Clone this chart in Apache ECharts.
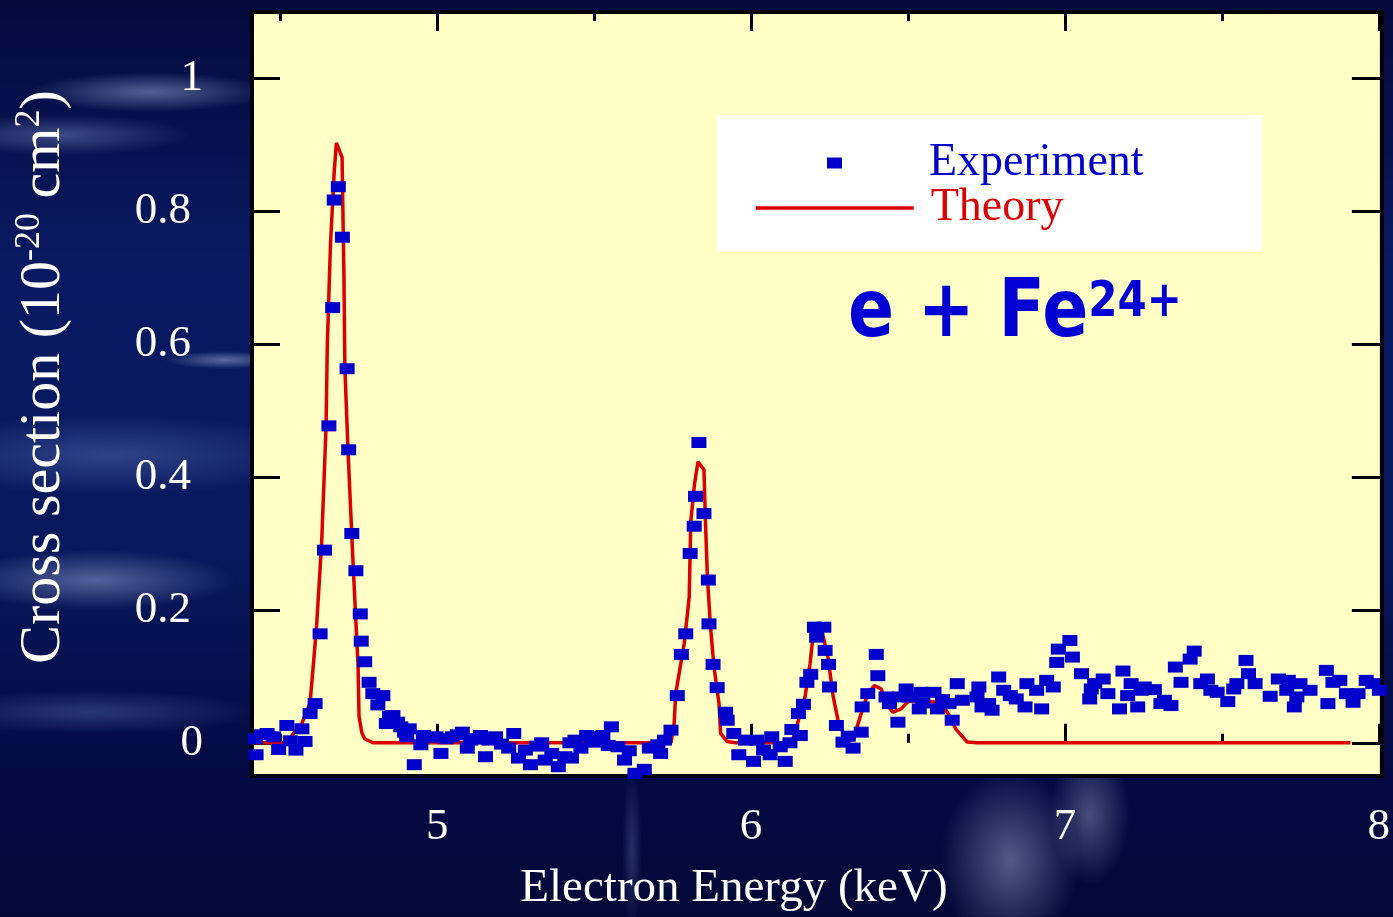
<!DOCTYPE html>
<html>
<head>
<meta charset="utf-8">
<script src="https://cdn.jsdelivr.net/npm/echarts@6/dist/echarts.min.js"></script>
<style>
html, body { margin:0; padding:0; width:1393px; height:917px; overflow:hidden; }
body {
  background-color:#040c45;
  background-image:
    radial-gradient(ellipse 120px 20px at 150px 92px, rgba(175,195,235,0.45), rgba(175,195,235,0) 100%),
    radial-gradient(ellipse 130px 20px at 60px 135px, rgba(150,170,220,0.38), rgba(150,170,220,0) 100%),
    radial-gradient(ellipse 60px 9px at 225px 360px, rgba(190,200,240,0.45), rgba(190,200,240,0) 100%),
    radial-gradient(ellipse 220px 40px at 110px 455px, rgba(110,135,200,0.38), rgba(110,135,200,0) 100%),
    radial-gradient(ellipse 140px 30px at 95px 580px, rgba(175,190,230,0.45), rgba(175,190,230,0) 100%),
    radial-gradient(ellipse 170px 22px at 90px 712px, rgba(120,145,210,0.32), rgba(120,145,210,0) 100%),
    radial-gradient(ellipse 70px 90px at 1010px 860px, rgba(160,170,210,0.50), rgba(160,170,210,0) 100%),
    radial-gradient(ellipse 40px 70px at 1090px 815px, rgba(170,180,215,0.40), rgba(170,180,215,0) 100%),
    radial-gradient(ellipse 10px 80px at 632px 850px, rgba(120,140,200,0.30), rgba(120,140,200,0) 100%),
    linear-gradient(180deg, #030a3c 0%, #0a1a62 30%, #08185c 60%, #030a42 85%, #020836 100%);
}
#chart { width:1393px; height:917px; }
</style>
</head>
<body>
<div id="chart"></div>
<script>
// ---------- data ----------
const expEnergy = [
  4.421, 4.423, 4.440, 4.458, 4.479, 4.495, 4.521, 4.532, 4.550, 4.569,
  4.579, 4.595, 4.611, 4.627, 4.641, 4.655, 4.667, 4.672, 4.685, 4.698,
  4.713, 4.718, 4.728, 4.741, 4.755, 4.758, 4.769, 4.783, 4.795, 4.811,
  4.827, 4.838, 4.848, 4.859, 4.874, 4.884, 4.896, 4.903, 4.911, 4.927,
  4.948, 4.956, 4.975, 4.996, 5.012, 5.028, 5.048, 5.064, 5.080, 5.096,
  5.107, 5.122, 5.138, 5.154, 5.165, 5.186, 5.205, 5.228, 5.244, 5.259,
  5.281, 5.297, 5.318, 5.333, 5.344, 5.365, 5.386, 5.407, 5.423, 5.428,
  5.439, 5.458, 5.476, 5.490, 5.502, 5.513, 5.528, 5.545, 5.555, 5.576,
  5.597, 5.612, 5.630, 5.660, 5.676, 5.703, 5.712, 5.724, 5.745, 5.765,
  5.778, 5.792, 5.806, 5.819, 5.823, 5.834, 5.850, 5.864, 5.866, 5.879,
  5.892, 5.919, 5.924, 5.945, 5.961, 5.982, 6.008, 6.019, 6.040, 6.061,
  6.066, 6.093, 6.109, 6.124, 6.130, 6.151, 6.157, 6.167, 6.178, 6.190,
  6.202, 6.209, 6.232, 6.236, 6.247, 6.250, 6.272, 6.293, 6.310, 6.325,
  6.351, 6.354, 6.372, 6.399, 6.404, 6.430, 6.441, 6.468, 6.473, 6.494,
  6.504, 6.536, 6.541, 6.547, 6.583, 6.594, 6.610, 6.631, 6.641, 6.657,
  6.673, 6.720, 6.726, 6.736, 6.757, 6.768, 6.789, 6.805, 6.826, 6.845,
  6.873, 6.879, 6.910, 6.926, 6.942, 6.963, 6.974, 6.979, 7.016, 7.024,
  7.053, 7.079, 7.084, 7.095, 7.122, 7.137, 7.174, 7.185, 7.200, 7.211,
  7.232, 7.243, 7.253, 7.285, 7.306, 7.317, 7.338, 7.352, 7.370, 7.399,
  7.412, 7.433, 7.454, 7.465, 7.485, 7.519, 7.538, 7.548, 7.577, 7.585,
  7.606, 7.654, 7.680, 7.707, 7.712, 7.731, 7.739, 7.749, 7.781, 7.833,
  7.838, 7.854, 7.876, 7.897, 7.918, 7.934, 7.960, 7.981, 8.002
];
const expValue = [
  0.006, -0.018, 0.012, 0.014, 0.009, -0.010, 0.026, 0.003, -0.011, 0.021,
  0.002, 0.044, 0.059, 0.164, 0.290, 0.477, 0.655, 0.817, 0.837, 0.761,
  0.563, 0.441, 0.315, 0.259, 0.194, 0.153, 0.122, 0.091, 0.074, 0.057,
  0.071, 0.029, 0.040, 0.041, 0.031, 0.024, 0.016, 0.009, 0.021, -0.033,
  -0.003, 0.011, 0.008, 0.009, -0.016, 0.006, 0.009, 0.012, 0.016, -0.008,
  0.004, 0.006, 0.011, -0.021, 0.004, 0.009, -0.002, -0.008, 0.014, -0.023,
  -0.011, -0.033, -0.005, 0.000, -0.026, -0.016, -0.036, -0.021, 0.000, -0.023,
  0.004, -0.008, 0.011, 0.008, 0.001, 0.009, 0.011, -0.004, 0.024, -0.006,
  -0.026, -0.012, -0.046, -0.040, -0.008, -0.003, -0.016, 0.004, 0.019, 0.071,
  0.133, 0.164, 0.285, 0.326, 0.371, 0.452, 0.345, 0.245, 0.179, 0.118,
  0.083, 0.046, 0.034, 0.014, -0.018, 0.004, -0.028, 0.004, -0.011, -0.018,
  0.009, -0.006, -0.028, 0.000, 0.020, 0.044, 0.011, 0.058, 0.091, 0.103,
  0.174, 0.159, 0.174, 0.139, 0.118, 0.084, 0.026, 0.001, 0.010, -0.008,
  0.016, 0.054, 0.074, 0.133, 0.101, 0.069, 0.059, 0.031, 0.069, 0.081,
  0.069, 0.051, 0.076, 0.060, 0.076, 0.051, 0.065, 0.059, 0.034, 0.089,
  0.064, 0.069, 0.084, 0.054, 0.059, 0.049, 0.099, 0.079, 0.071, 0.066,
  0.054, 0.089, 0.079, 0.051, 0.094, 0.084, 0.121, 0.141, 0.154, 0.129,
  0.104, 0.066, 0.081, 0.089, 0.096, 0.074, 0.051, 0.108, 0.071, 0.089,
  0.054, 0.079, 0.084, 0.080, 0.059, 0.064, 0.056, 0.114, 0.091, 0.126,
  0.138, 0.089, 0.096, 0.079, 0.076, 0.062, 0.081, 0.089, 0.124, 0.104,
  0.089, 0.070, 0.096, 0.079, 0.094, 0.054, 0.069, 0.089, 0.079, 0.109,
  0.059, 0.091, 0.094, 0.074, 0.061, 0.074, 0.094, 0.089, 0.079
];
const theoryEnergy = [
  4.41, 4.52, 4.542, 4.569, 4.595, 4.605, 4.616, 4.632, 4.646, 4.650,
  4.660, 4.672, 4.679, 4.697, 4.703, 4.706, 4.716, 4.732, 4.748, 4.751,
  4.760, 4.769, 4.795, 5.745, 5.755, 5.760, 5.787, 5.803, 5.808, 5.820,
  5.831, 5.850, 5.855, 5.861, 5.871, 5.882, 5.898, 5.903, 5.924, 5.95,
  6.13, 6.151, 6.172, 6.188, 6.196, 6.205, 6.225, 6.245, 6.262, 6.277,
  6.298, 6.325, 6.351, 6.372, 6.393, 6.415, 6.430, 6.452, 6.478, 6.50,
  6.55, 6.60, 6.626, 6.652, 6.689, 6.72, 7.91
];
const theoryValue = [
  0, 0, 0.014, 0.029, 0.060, 0.115, 0.177, 0.302, 0.476, 0.600,
  0.750, 0.860, 0.903, 0.881, 0.700, 0.563, 0.439, 0.270, 0.115, 0.040,
  0.015, 0.006, 0, 0, 0.029, 0.074, 0.149, 0.219, 0.333, 0.390,
  0.423, 0.411, 0.330, 0.249, 0.174, 0.114, 0.059, 0.014, 0.002, 0,
  0, 0.034, 0.069, 0.119, 0.154, 0.170, 0.170, 0.129, 0.069, 0.034,
  0.009, 0.004, 0.044, 0.074, 0.086, 0.081, 0.059, 0.046, 0.051, 0.062,
  0.064, 0.060, 0.046, 0.021, 0.001, 0, 0
];
const xMajorTicks = [5, 6, 7, 8];
const xMinorTicks = [4.5, 5.5, 6.5, 7.5];
const yTicks = [0, 0.2, 0.4, 0.6, 0.8, 1];
const peakNames = ['KLL', 'KLM', 'KLN', 'KL0', 'KMM', 'KMN'];
const peakNameEnergy = [4.649, 5.782, 6.158, 6.399, 6.911, 7.475];
const peakNameValue = [0.970, 0.531, 0.280, 0.187, 0.214, 0.214];

// ---------- chart ----------
const SERIF = '"Liberation Serif", "Times New Roman", serif';
const tickLine = { color: '#000', width: 3 };
const X_MIN = 4.41, X_MAX = 8.01, Y_MIN = -0.05, Y_MAX = 1.1;
const EXP_COLOR = '#0000CC', THEORY_COLOR = '#DD0000', FE_COLOR = '#0000D4';

function xAxisDef(position, ticks, len, withLabels) {
  const ax = {
    type: 'value', position: position, min: X_MIN, max: X_MAX,
    axisLine: { show: false }, splitLine: { show: false },
    axisTick: { show: true, inside: true, length: len, lineStyle: tickLine, customValues: ticks },
    axisLabel: { show: false }
  };
  if (withLabels) {
    ax.axisLabel = {
      show: true, customValues: ticks, color: '#ffffff', fontSize: 45,
      fontFamily: SERIF, margin: 29, formatter: v => String(v)
    };
    ax.name = 'Electron Energy (keV)';
    ax.nameLocation = 'middle';
    ax.nameGap = 89;
    ax.nameTextStyle = { color: '#ffffff', fontSize: 47, fontFamily: SERIF, padding: [0, 166, 0, 0] };
  }
  return ax;
}
function yAxisDef(position, len, withLabels) {
  const ax = {
    type: 'value', position: position, min: Y_MIN, max: Y_MAX,
    axisLine: { show: false }, splitLine: { show: false },
    axisTick: { show: true, inside: true, length: len, lineStyle: tickLine, customValues: yTicks },
    axisLabel: { show: false }
  };
  if (withLabels) {
    ax.axisLabel = {
      show: true, customValues: yTicks, color: '#ffffff', fontSize: 45, fontFamily: SERIF,
      margin: 49, align: 'right',
      formatter: v => Number.isInteger(v) ? '{i|' + v + '}' : '{d|' + v + '}',
      rich: {
        i: { color: '#ffffff', fontSize: 45, fontFamily: SERIF },
        d: { color: '#ffffff', fontSize: 45, fontFamily: SERIF, padding: [0, 12, 0, 0] }
      }
    };
    ax.name = '{n|Cross section (10}{s|-20}{n| cm}{s|2}{n|)}';
    ax.nameLocation = 'middle';
    ax.nameRotate = 90;
    ax.nameGap = 176;
    ax.nameTextStyle = {
      color: '#ffffff', fontSize: 58, fontFamily: SERIF, padding: [0, 0, 0, 34],
      rich: {
        n: { color: '#ffffff', fontSize: 58, fontFamily: SERIF, lineHeight: 64 },
        s: { color: '#ffffff', fontSize: 36, fontFamily: SERIF, lineHeight: 36, verticalAlign: 'top' }
      }
    };
  }
  return ax;
}

const chart = echarts.init(document.getElementById('chart'), null, { renderer: 'canvas' });
const option = {
  animation: false,
  backgroundColor: 'transparent',
  graphic: [{
    type: 'text', x: 848, y: 267, scaleY: 1.19, z: 10, silent: true,
    style: {
      text: '{a|e + Fe}{b|24+}',
      rich: {
        a: { fontFamily: '"DejaVu Sans"', fontWeight: 'bold', fontSize: 68, fill: FE_COLOR, lineHeight: 80 },
        b: { fontFamily: '"DejaVu Sans"', fontWeight: 'bold', fontSize: 42, fill: FE_COLOR, lineHeight: 42,
             verticalAlign: 'top', padding: [9, 0, 0, 0] }
      }
    }
  }],
  legend: [
    {
      orient: 'vertical', left: 717, top: 115, z: 5,
      padding: [25, 118, 66, 110],
      backgroundColor: '#ffffff', borderWidth: 0,
      itemWidth: 15, itemHeight: 11, itemGap: 0,
      selectedMode: false, icon: 'rect',
      textStyle: { fontSize: 46, fontFamily: SERIF, lineHeight: 46, padding: [0, 0, 0, 82] },
      data: [{ name: 'Experiment', textStyle: { color: EXP_COLOR } }]
    },
    {
      orient: 'vertical', left: 754, top: 185, z: 6,
      padding: 0, backgroundColor: 'transparent',
      itemWidth: 158, itemHeight: 12, itemGap: 0,
      selectedMode: false,
      textStyle: { fontSize: 46, fontFamily: SERIF, lineHeight: 46, padding: [0, 0, 0, 12] },
      data: [{ name: 'Theory', textStyle: { color: THEORY_COLOR },
               itemStyle: { opacity: 0 }, lineStyle: { width: 3.5, color: THEORY_COLOR } }]
    }
  ],
  grid: {
    left: 252, right: 3, top: 12, bottom: 139,
    show: true, backgroundColor: '#FFFFC6', borderColor: '#000000', borderWidth: 4
  },
  xAxis: [
    xAxisDef('bottom', xMajorTicks, 19, true),
    xAxisDef('bottom', xMinorTicks, 9, false),
    xAxisDef('top', xMajorTicks, 19, false),
    xAxisDef('top', xMinorTicks, 9, false)
  ],
  yAxis: [
    yAxisDef('left', 28, true),
    yAxisDef('right', 30, false)
  ],
  series: [
    {
      name: 'Theory', type: 'line', xAxisIndex: 0, yAxisIndex: 0,
      data: theoryEnergy.map((e, i) => [e, theoryValue[i]]),
      symbol: 'none', showSymbol: false, smooth: false,
      lineStyle: { color: THEORY_COLOR, width: 3.5 },
      itemStyle: { color: THEORY_COLOR },
      z: 2
    },
    {
      name: 'Experiment', type: 'scatter', xAxisIndex: 0, yAxisIndex: 0,
      data: expEnergy.map((e, i) => [e, expValue[i]]),
      symbol: 'rect', symbolSize: [15, 11],
      itemStyle: { color: EXP_COLOR, opacity: 1 },
      z: 3
    },
    {
      name: 'peaks', type: 'scatter', xAxisIndex: 0, yAxisIndex: 0,
      data: peakNames.map((n, i) => ({ name: n, value: [peakNameEnergy[i], peakNameValue[i]] })),
      symbolSize: 1, itemStyle: { opacity: 0 },
      label: { show: true, position: 'inside', formatter: '{b}', color: '#000000', fontSize: 45, fontFamily: SERIF },
      silent: true, z: 4
    }
  ]
};
chart.setOption(option);
</script>
</body>
</html>
